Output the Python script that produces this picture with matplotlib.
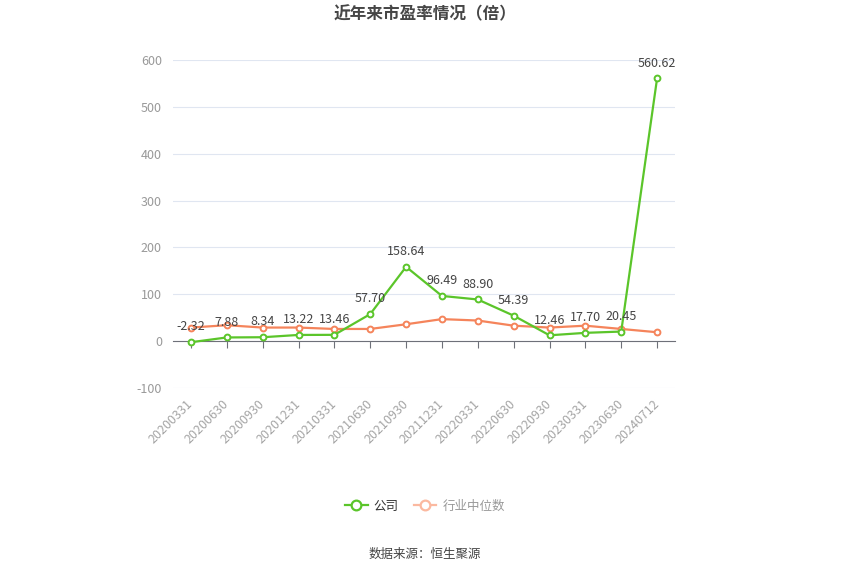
import matplotlib
matplotlib.use("Agg")
import matplotlib.pyplot as plt
from matplotlib.lines import Line2D

plt.rcParams['font.family'] = ['Noto Sans CJK SC', 'DejaVu Sans']

categories = ["20200331", "20200630", "20200930", "20201231", "20210331", "20210630",
              "20210930", "20211231", "20220331", "20220630", "20220930", "20230331",
              "20230630", "20240712"]
company = [-2.32, 7.88, 8.34, 13.22, 13.46, 57.70, 158.64, 96.49, 88.90, 54.39,
           12.46, 17.70, 20.45, 560.62]
industry = [29, 34, 29, 29, 26, 26, 36, 47, 44, 33, 29, 33, 26, 19]
yticks = [-100, 0, 100, 200, 300, 400, 500, 600]

green = '#5bc52a'
orange = '#f5845b'

fig = plt.figure(figsize=(8.5, 5.75), dpi=100)
ax = fig.add_axes([173/850, 1-388/575, 502/850, 328/575])
x = list(range(len(categories)))

ax.set_ylim(-100, 600)
ax.set_xlim(-0.5, len(categories)-0.5)
ax.set_yticks(yticks)
ax.set_yticklabels([str(v) for v in yticks])
ax.grid(axis='y', color='#e0e6f1', linewidth=0.8)
ax.set_axisbelow(True)
for s in ('top', 'right', 'left'):
    ax.spines[s].set_visible(False)
ax.spines['bottom'].set_position(('data', 0))
ax.spines['bottom'].set_color('#6e7079')
ax.spines['bottom'].set_linewidth(0.8)
ax.tick_params(axis='y', length=0, labelcolor='#999999', labelsize=9, pad=8)
ax.set_xticks(x)
ax.tick_params(axis='x', length=5, color='#6e7079', width=0.8, direction='out',
               labelbottom=False)

# category labels along the bottom of the plot
sec = ax.secondary_xaxis(0)
sec.set_xticks(x)
sec.set_xticklabels(categories, rotation=45, ha='right', va='center', rotation_mode='anchor')
sec.tick_params(axis='x', length=0, labelcolor='#a5a5a5', labelsize=9, pad=10)
sec.spines['bottom'].set_visible(False)

ax.plot(x, industry, color=orange, lw=1.6, marker='o', ms=4.2, mfc='white',
        mec=orange, mew=1.4, zorder=3, clip_on=False)
ax.plot(x, company, color=green, lw=1.6, marker='o', ms=4.2, mfc='white',
        mec=green, mew=1.4, zorder=4, clip_on=False)

for xi, v in zip(x, company):
    ax.annotate(f"{v:.2f}", (xi, v), xytext=(0, 11), textcoords='offset points',
                ha='center', va='center', fontsize=9, color='#444444', zorder=5)

fig.text(0.5, 1-14/575, "近年来市盈率情况（倍）", ha='center', va='center',
         fontsize=12, fontweight='bold', color='#464646')
fig.text(0.5, 1-554/575, "数据来源：恒生聚源", ha='center', va='center',
         fontsize=9, color='#444444')

handles = [Line2D([], [], color=green, lw=1.6, marker='o', ms=7, mfc='white', mec=green, mew=1.6),
           Line2D([], [], color='#fbb9a0', lw=1.6, marker='o', ms=7, mfc='white', mec='#fbb9a0', mew=1.6)]
leg = fig.legend(handles, ["公司", "行业中位数"], loc='center', bbox_to_anchor=(0.5, 1-506/575),
                 ncol=2, frameon=False, fontsize=9, handlelength=1.8, columnspacing=1.2,
                 handletextpad=0.5)
leg.get_texts()[0].set_color('#333333')
leg.get_texts()[1].set_color('#999999')

fig.savefig("out.png", dpi=100)
